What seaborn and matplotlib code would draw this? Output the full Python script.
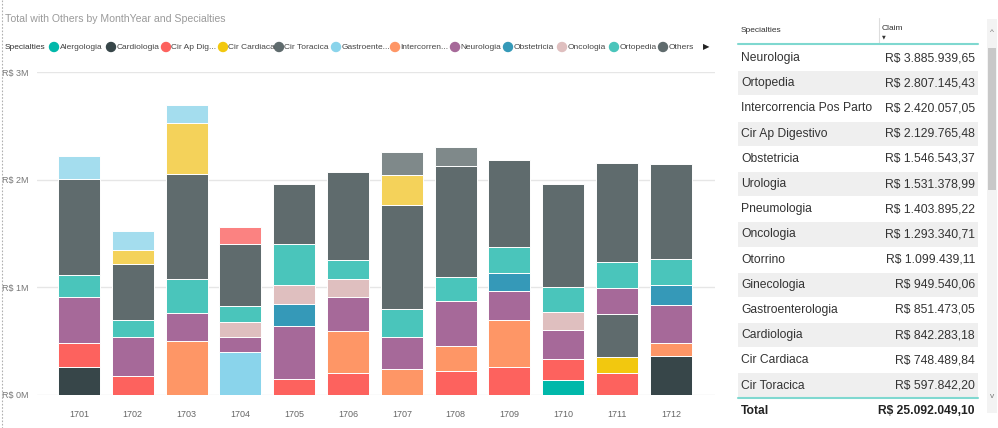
import matplotlib
matplotlib.use("Agg")
import matplotlib.pyplot as plt
import numpy as np
import pandas as pd
import seaborn as sns
from matplotlib.lines import Line2D
from matplotlib.patches import Rectangle, Ellipse

months = ["1701", "1702", "1703", "1704", "1705", "1706",
          "1707", "1708", "1709", "1710", "1711", "1712"]

# series in legend/stack order (bottom -> top), values in R$ millions
specialties = ["Alergologia", "Cardiologia", "Cir Ap Digestivo", "Cir Cardiaca",
               "Cir Toracica", "Gastroenterologia", "Intercorrencia Pos Parto",
               "Neurologia", "Obstetricia", "Oncologia", "Ortopedia", "Others",
               "Otorrino", "Pneumologia", "Urologia", "Ginecologia"]
legend_labels = ["Alergologia", "Cardiologia", "Cir Ap Dig...", "Cir Cardiaca",
                 "Cir Toracica", "Gastroente...", "Intercorren...", "Neurologia",
                 "Obstetricia", "Oncologia", "Ortopedia", "Others"]
palette = ["#01B8AA", "#374649", "#FD625E", "#F2C80F", "#5F6B6D", "#8AD4EB",
           "#FE9666", "#A66999", "#3599B8", "#DFBFBF", "#4AC5BB", "#5F6B6D",
           "#FB8281", "#F4D25A", "#7F898A", "#A4DDEE"]

alergologia = [0, 0, 0, 0, 0, 0, 0, 0, 0, 0.133, 0, 0]
cardiologia = [0.258, 0, 0, 0, 0, 0, 0, 0, 0, 0, 0, 0.357]
cir_ap_digestivo = [0.226, 0.174, 0, 0, 0.146, 0.199, 0, 0.220, 0.258, 0.196, 0.202, 0]
cir_cardiaca = [0, 0, 0, 0, 0, 0, 0, 0, 0, 0, 0.146, 0]
cir_toracica = [0, 0, 0, 0, 0, 0, 0, 0, 0, 0, 0.406, 0]
gastroenterologia = [0, 0, 0, 0.394, 0, 0, 0, 0, 0, 0, 0, 0]
intercorrencia = [0, 0, 0.497, 0, 0, 0.394, 0.239, 0.233, 0.434, 0, 0, 0.124]
neurologia = [0.428, 0.357, 0.263, 0.146, 0.496, 0.313, 0.298, 0.413, 0.276, 0.276, 0.242, 0.354]
obstetricia = [0, 0, 0, 0, 0.202, 0, 0, 0, 0.165, 0, 0, 0.186]
oncologia = [0, 0, 0, 0.137, 0.180, 0.165, 0, 0, 0, 0.159, 0, 0]
ortopedia = [0.202, 0.164, 0.311, 0.149, 0.373, 0.183, 0.258, 0.226, 0.239, 0.235, 0.242, 0.242]
others = [0.891, 0.519, 0.981, 0.571, 0.561, 0.822, 0.974, 1.037, 0.816, 0.963, 0.913, 0.879]
otorrino = [0, 0, 0, 0.158, 0, 0, 0, 0, 0, 0, 0, 0]
pneumologia = [0, 0.133, 0.474, 0, 0, 0, 0.276, 0, 0, 0, 0, 0]
urologia = [0, 0, 0, 0, 0, 0, 0.211, 0.174, 0, 0, 0, 0]
ginecologia = [0.220, 0.180, 0.171, 0, 0, 0, 0, 0, 0, 0, 0, 0]

series = [alergologia, cardiologia, cir_ap_digestivo, cir_cardiaca, cir_toracica,
          gastroenterologia, intercorrencia, neurologia, obstetricia, oncologia,
          ortopedia, others, otorrino, pneumologia, urologia, ginecologia]

# right-hand table
table_names = ["Neurologia", "Ortopedia", "Intercorrencia Pos Parto", "Cir Ap Digestivo",
               "Obstetricia", "Urologia", "Pneumologia", "Oncologia", "Otorrino",
               "Ginecologia", "Gastroenterologia", "Cardiologia", "Cir Cardiaca",
               "Cir Toracica"]
table_claims = ["R$ 3.885.939,65", "R$ 2.807.145,43", "R$ 2.420.057,05", "R$ 2.129.765,48",
                "R$ 1.546.543,37", "R$ 1.531.378,99", "R$ 1.403.895,22", "R$ 1.293.340,71",
                "R$ 1.099.439,11", "R$ 949.540,06", "R$ 851.473,05", "R$ 842.283,18",
                "R$ 748.489,84", "R$ 597.842,20"]
total_claim = "R$ 25.092.049,10"

sns.set_theme(style="white")
plt.rcParams["font.family"] = ["Liberation Sans", "DejaVu Sans"]

fig = plt.figure(figsize=(9.98, 4.28), dpi=100)
ax = fig.add_axes([37 / 998, (428 - 394.5) / 428, 678 / 998, 322.2 / 428])

bottom = np.zeros(len(months))
for name, vals, col in zip(specialties, series, palette):
    vals = np.array(vals, dtype=float)
    mask = vals > 0
    if not mask.any():
        continue
    df = pd.DataFrame({"month": np.array(months)[mask], "claim": vals[mask] * 1e6})
    sns.barplot(data=df, x="month", y="claim", order=months, color=col,
                saturation=1, width=0.78, errorbar=None,
                bottom=bottom[mask] * 1e6, edgecolor="white", linewidth=0.7, ax=ax)
    bottom += vals

ax.set_xlim(-0.78, 11.82)
ax.set_ylim(0, 3e6)
ax.set_yticks([0, 1e6, 2e6, 3e6])
ax.set_yticklabels([r"R\$ %dM" % v for v in range(4)])
ax.set_xlabel("")
ax.set_ylabel("")
ax.yaxis.grid(True, color="#e6e6e6", linewidth=1)
ax.set_axisbelow(True)
for s in ax.spines.values():
    s.set_visible(False)
ax.tick_params(axis="y", length=0, pad=6, labelsize=6.5, labelcolor="#777777")
ax.tick_params(axis="x", length=0, pad=11, labelsize=6.5, labelcolor="#666666")

# overlay in pixel coordinates for title, legend and table
ov = fig.add_axes([0, 0, 1, 1], facecolor="none")
ov.set_xlim(0, 998)
ov.set_ylim(428, 0)
ov.axis("off")

ov.add_line(Line2D([2, 2], [0, 428], color="#b0b0b0", linewidth=0.8, linestyle=(0, (1.5, 1.5))))
ov.text(5, 19, "Total with Others by MonthYear and Specialties", fontsize=7.6,
        color="#9a9a9a", va="center", ha="left")

ov.text(5, 47, "Specialties", fontsize=6.0, color="#333333", va="center", ha="left")
legend_x = [54, 111, 166, 223, 279, 336, 395, 455, 508, 562, 614, 663]
for lx, lab, col in zip(legend_x, legend_labels, palette):
    ov.add_patch(Ellipse((lx, 47), 9, 9, color=col))
    ov.text(lx + 5.5, 47, lab, fontsize=6.0, color="#444444", va="center", ha="left")
ov.text(703, 47, "\u25B6", fontsize=6, color="#222222", va="center", ha="left",
        family=["DejaVu Sans"])

# table
tx0, tx1 = 738, 978
ov.text(741, 30, "Specialties", fontsize=6, color="#333333", va="center", ha="left")
ov.text(882, 28, "Claim", fontsize=6, color="#333333", va="center", ha="left")
ov.text(882, 36.5, "\u25BC", fontsize=3.5, color="#333333", va="center", ha="left",
        family=["DejaVu Sans"])
ov.add_line(Line2D([879, 879], [18, 43], color="#dddddd", linewidth=0.8))
ov.add_line(Line2D([tx0, tx1], [43.5, 43.5], color="#7fd8d0", linewidth=1.5))

row_h = 25.2
for i, (nm, cl) in enumerate(zip(table_names, table_claims)):
    yc = 58 + i * row_h
    if i % 2 == 1:
        ov.add_patch(Rectangle((tx0, yc - row_h / 2 + 0.5), tx1 - tx0, row_h - 1,
                               color="#efefef", linewidth=0))
    ov.text(741, yc, nm, fontsize=8.7, color="#333333", va="center", ha="left")
    ov.text(975, yc, cl, fontsize=8.7, color="#333333", va="center", ha="right")

ov.add_line(Line2D([tx0, tx1], [398, 398], color="#7fd8d0", linewidth=1.5))
ov.text(741, 411, "Total", fontsize=8.7, color="#222222", va="center", ha="left",
        fontweight="bold")
ov.text(975, 411, total_claim, fontsize=8.7, color="#222222", va="center", ha="right",
        fontweight="bold")

# scrollbar
ov.add_patch(Rectangle((987, 19), 10, 394, color="#f3f3f3", linewidth=0))
ov.add_patch(Rectangle((988, 48), 8, 142, color="#c8c8c8", linewidth=0))
ov.text(992, 32, "^", fontsize=6, color="#777777", va="center", ha="center")
ov.text(992, 396, "v", fontsize=6, color="#777777", va="center", ha="center")

fig.savefig("out.png", dpi=100)
